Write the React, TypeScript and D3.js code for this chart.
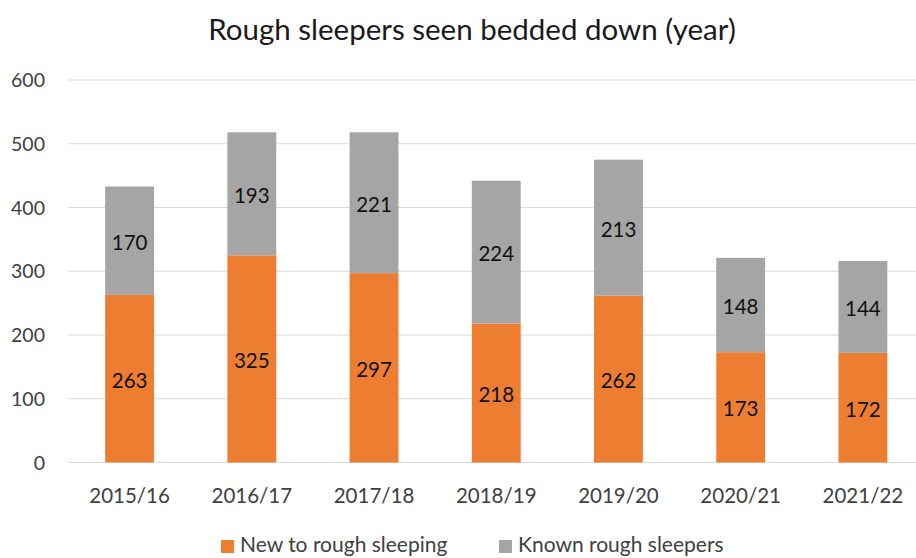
import React, { useEffect, useRef } from 'react'
import * as d3 from 'd3'

const years = ['2015/16', '2016/17', '2017/18', '2018/19', '2019/20', '2020/21', '2021/22']
const newSleepers = [263, 325, 297, 218, 262, 173, 172]
const knownSleepers = [170, 193, 221, 224, 213, 148, 144]
const seriesNames = ['New to rough sleeping', 'Known rough sleepers']
const yTicks = [0, 100, 200, 300, 400, 500, 600]

const W = 916
const H = 558
const FONT = 'Lato, "Open Sans", sans-serif'

export default function App() {
  const ref = useRef<SVGSVGElement>(null)

  useEffect(() => {
    const svg = d3.select(ref.current)
    svg.selectAll('*').remove()

    const x = d3.scaleBand().domain(years).range([68.5, 924]).paddingInner(0.6).paddingOuter(0.3)
    const y = d3.scaleLinear().domain([0, 600]).range([462.5, 80])

    const colors = ['#ED7D31', '#A5A5A5']

    // title
    svg.append('text')
      .attr('x', 472).attr('y', 40)
      .attr('text-anchor', 'middle')
      .attr('font-family', FONT).attr('font-size', 29.5)
      .attr('fill', '#1a1a1a')
      .text('Rough sleepers seen bedded down (year)')

    // gridlines
    svg.append('g').selectAll('line')
      .data(yTicks).enter().append('line')
      .attr('x1', 68).attr('x2', W)
      .attr('y1', d => y(d)).attr('y2', d => y(d))
      .attr('stroke', '#D9D9D9').attr('stroke-width', 1.2)

    // y labels
    svg.append('g').selectAll('text')
      .data(yTicks).enter().append('text')
      .attr('x', 45).attr('y', d => y(d) + 7)
      .attr('text-anchor', 'end')
      .attr('font-family', FONT).attr('font-size', 19.5)
      .attr('fill', '#404040')
      .text(d => d)

    // stacked data
    const rows = years.map((yr, i) => ({ year: yr, a: newSleepers[i], b: knownSleepers[i] }))
    const stack = d3.stack<any>().keys(['a', 'b'])(rows)

    stack.forEach((layer, li) => {
      const g = svg.append('g')
      g.selectAll('rect')
        .data(layer).enter().append('rect')
        .attr('x', d => x(d.data.year)!)
        .attr('width', x.bandwidth())
        .attr('y', d => y(d[1]))
        .attr('height', d => y(d[0]) - y(d[1]))
        .attr('fill', colors[li])
      g.selectAll('text')
        .data(layer).enter().append('text')
        .attr('x', d => x(d.data.year)! + x.bandwidth() / 2)
        .attr('y', d => (y(d[0]) + y(d[1])) / 2 + 9)
        .attr('text-anchor', 'middle')
        .attr('font-family', FONT).attr('font-size', 20.5)
        .attr('fill', '#111')
        .text(d => d[1] - d[0])
    })

    // x labels
    svg.append('g').selectAll('text')
      .data(years).enter().append('text')
      .attr('x', d => x(d)! + x.bandwidth() / 2)
      .attr('y', 503)
      .attr('text-anchor', 'middle')
      .attr('font-family', FONT).attr('font-size', 20.5)
      .attr('fill', '#404040')
      .text(d => d)

    // legend
    const legendX = [221, 499]
    seriesNames.forEach((name, i) => {
      svg.append('rect')
        .attr('x', legendX[i]).attr('y', 540)
        .attr('width', 13).attr('height', 13)
        .attr('fill', colors[i])
      svg.append('text')
        .attr('x', legendX[i] + 19).attr('y', 552)
        .attr('font-family', FONT).attr('font-size', 21)
        .attr('fill', '#404040')
        .text(name)
    })
  }, [])

  return (
    <svg ref={ref} width={W} height={H} style={{ position: 'absolute', left: 0, top: 0, background: '#fff' }}></svg>
  )
}
